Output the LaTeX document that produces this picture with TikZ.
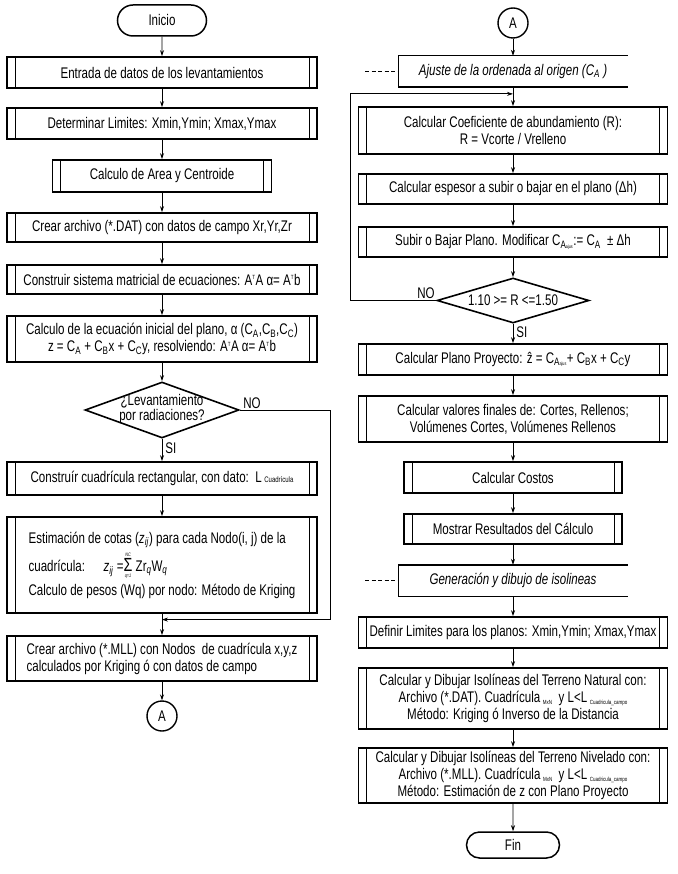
\documentclass[tikz,border=0pt]{standalone}
\usepackage{fontspec}
\setmainfont{Liberation Sans}[FakeStretch=0.75]
\usetikzlibrary{arrows.meta,shapes.geometric,shapes.misc,calc}
\newcommand\tsubx[1]{\raisebox{-2pt}{\fontsize{6}{6}\selectfont #1}}
\newcommand\ssubx[1]{\textsubscript{#1}}
\newcommand\supT{\textsuperscript{\fontsize{6}{6}\selectfont T}}
\begin{document}
\begin{tikzpicture}[x=1pt,y=-1pt,
  font=\fontsize{15.4}{17}\selectfont,
  sub/.style={draw, line width=1.6pt, minimum width=310pt, inner sep=2pt, align=center,
    path picture={\draw[line width=0.7pt]
      ([xshift=8pt]path picture bounding box.north west) -- ([xshift=8pt]path picture bounding box.south west)
      ([xshift=-8pt]path picture bounding box.north east) -- ([xshift=-8pt]path picture bounding box.south east);}},
  term/.style={draw, rounded rectangle, line width=1.5pt, inner sep=0pt},
  conn/.style={draw, circle, line width=1.4pt, minimum size=30pt, inner sep=0pt},
  dec/.style={draw, diamond, line width=1.6pt, inner sep=0pt},
  ann/.style={minimum width=229pt, minimum height=31pt, inner sep=2pt, font=\fontsize{15.4}{17}\selectfont\itshape},
  annline/.style={line width=1.4pt},
  arr/.style={draw, line width=0.8pt, -{Stealth[length=6pt,width=4pt]}},
  line/.style={draw, line width=0.8pt},
  lbl/.style={inner sep=0pt}]
\useasboundingbox (0,0) rectangle (677,874);

% ---------------- left column ----------------
\node[term, minimum width=89pt, minimum height=31pt] (inicio) at (162,20.5) {Inicio};
\node[sub, minimum height=31pt] (b1) at (162,72.5) {Entrada de datos de los levantamientos};
\node[sub, minimum height=31pt] (b2) at (162,123.5) {Determinar Limites: Xmin,Ymin; Xmax,Ymax};
\node[sub, minimum width=219pt, minimum height=32pt] (b3) at (162,176) {Calculo de Area y Centroide};
\node[sub, minimum height=29pt] (b4) at (162,227.5) {Crear archivo (*.DAT) con datos de campo Xr,Yr,Zr};
\node[sub, minimum height=29pt] (b5) at (162,279.5) {Construir sistema matricial de ecuaciones: A\supT A α= A\supT b};
\node[sub, minimum height=46pt] (b6) at (162,339) {Calculo de la ecuación inicial del plano, α (C\ssubx{A},C\ssubx{B},C\ssubx{C})\\
  z = C\ssubx{A} + C\ssubx{B}x + C\ssubx{C}y, resolviendo: A\supT A α= A\supT b};
\node[dec, minimum width=154pt, minimum height=56pt] (d1) at (162,410) {};
\node[lbl, align=center, font=\fontsize{15.4}{15}\selectfont] (d1t) at (162,409) {¿Levantamiento\\por radiaciones?};
\node[sub, minimum height=33pt] (b7) at (162,478.5) {Construír cuadrícula rectangular, con dato:\ \ L\,{\fontsize{8}{8}\selectfont Cuadrícula}};
\node[sub, minimum height=96pt, align=left] (b8) at (162,565) {Estimación de cotas (\textit{z}\textsubscript{\textit{ij}}) para cada Nodo(i, j) de la\\[3pt]
  cuadrícula:\quad\ \textit{z}\textsubscript{\textit{ij}} =$\mathop{\mbox{\fontsize{19}{19}\selectfont Σ}}\limits_{\mbox{\fontsize{5}{5}\selectfont\itshape q=1}}^{\mbox{\fontsize{5}{5}\selectfont\itshape NC}}$ Zr\textsubscript{\textit{q}}W\textsubscript{\textit{q}}\\[3pt]
  Calculo de pesos (Wq) por nodo: Método de Kriging};
\node[sub, minimum height=45pt, align=left] (b9) at (162,658.5) {Crear archivo (*.MLL) con Nodos\ \ de cuadrícula x,y,z\\calculados por Kriging ó con datos de campo};
\node[conn] (cA) at (162,716) {A};

\path[arr] (inicio) -- (b1);
\path[arr] (b1) -- (b2);
\path[arr] (b2) -- (b3);
\path[arr] (b3) -- (b4);
\path[arr] (b4) -- (b5);
\path[arr] (b5) -- (b6);
\path[arr] (b6) -- (d1);
\path[arr] (d1.south) -- node[lbl, right=3pt, pos=0.4] (si1) {SI} (b7);
\path[arr] (b7) -- (b8);
\path[arr] (b8) -- (b9);
\path[arr] (b9) -- (cA);
\coordinate (j1) at ($(b8.south)!0.27!(b9.north)$);
\path[arr] (d1.east) -- (330,410) |- (j1);
\node[lbl] (no1) at (252,403) {NO};

% ---------------- right column ----------------
\node[conn] (cA2) at (513,23) {A};
\node[ann] (ann1) at (513,71.5) {Ajuste de la ordenada al origen (C\ssubx{A} )};
\draw[annline] (ann1.north east) -- (ann1.north west) -- (ann1.south west) -- (ann1.south east);
\coordinate (da1) at (365,71.5);
\draw[line, dash pattern=on 4pt off 2.5pt] (da1) -- (ann1.west);
\node[sub, minimum width=309pt, minimum height=47pt] (b10) at (513,130.5) {Calcular Coeficiente de abundamiento (R):\\R = Vcorte / Vrelleno};
\node[sub, minimum width=309pt, minimum height=30pt] (b11) at (513,189) {Calcular espesor a subir o bajar en el plano (Δh)};
\node[sub, minimum width=309pt, minimum height=30pt] (b12) at (513,242) {Subir o Bajar Plano. Modificar C\ssubx{A{\fontsize{5}{5}\selectfont ajus}}:= C\ssubx{A}\ \ ± Δh};
\node[dec, minimum width=152pt, minimum height=45pt] (d2) at (513,300.5) {};
\node[lbl] (d2t) at (513,300.5) {1.10 >= R <=1.50};
\node[sub, minimum width=309pt, minimum height=31pt] (b13) at (513,359.5) {Calcular Plano Proyecto: \^{z} = C\ssubx{A{\fontsize{5}{5}\selectfont ajus}}+ C\ssubx{B}x + C\ssubx{C}y};
\node[sub, minimum width=309pt, minimum height=46pt] (b14) at (513,419) {Calcular valores finales de: Cortes, Rellenos;\\Volúmenes Cortes, Volúmenes Rellenos};
\node[sub, minimum width=218pt, minimum height=31pt] (b15) at (513,477.5) {Calcular Costos};
\node[sub, minimum width=218pt, minimum height=30pt] (b16) at (513,529) {Mostrar Resultados del Cálculo};
\node[ann] (ann2) at (513,580.5) {Generación y dibujo de isolineas};
\draw[annline] (ann2.north east) -- (ann2.north west) -- (ann2.south west) -- (ann2.south east);
\coordinate (da2) at (365,580.5);
\draw[line, dash pattern=on 4pt off 2.5pt] (da2) -- (ann2.west);
\node[sub, minimum width=309pt, minimum height=31pt] (b17) at (513,632.5) {Definir Limites para los planos: Xmin,Ymin; Xmax,Ymax};
\node[sub, minimum width=309pt, minimum height=61pt] (b18) at (513,698.5) {Calcular y Dibujar Isolíneas del Terreno Natural con:\\
  Archivo (*.DAT). Cuadrícula\,\tsubx{MxN}\ \ y L<L\,\tsubx{Cuadricula\_campo}\\
  Método: Kriging ó Inverso de la Distancia};
\node[sub, minimum width=309pt, minimum height=55pt] (b19) at (513,775.5) {Calcular y Dibujar Isolíneas del Terreno Nivelado con:\\
  Archivo (*.MLL). Cuadrícula\,\tsubx{MxN}\ \ y L<L\,\tsubx{Cuadricula\_campo}\\
  Método: Estimación de z con Plano Proyecto};
\node[term, minimum width=93pt, minimum height=26pt] (fin) at (513,845) {Fin};

\path[arr] (cA2) -- (ann1);
\path[arr] (ann1) -- (b10);
\path[arr] (b10) -- (b11);
\path[arr] (b11) -- (b12);
\path[arr] (b12) -- (d2);
\path[arr] (d2.south) -- node[lbl, right=3pt, pos=0.45] (si2) {SI} (b13);
\path[arr] (b13) -- (b14);
\path[arr] (b14) -- (b15);
\path[arr] (b15) -- (b16);
\path[arr] (b16) -- (ann2);
\path[arr] (ann2) -- (b17);
\path[arr] (b17) -- (b18);
\path[arr] (b18) -- (b19);
\path[arr] (b19) -- (fin);
\coordinate (j2) at ($(ann1.south)!0.35!(b10.north)$);
\path[arr] (d2.west) -- (350,300.5) |- (j2);
\node[lbl] (no2) at (426,293) {NO};
\end{tikzpicture}
\end{document}
